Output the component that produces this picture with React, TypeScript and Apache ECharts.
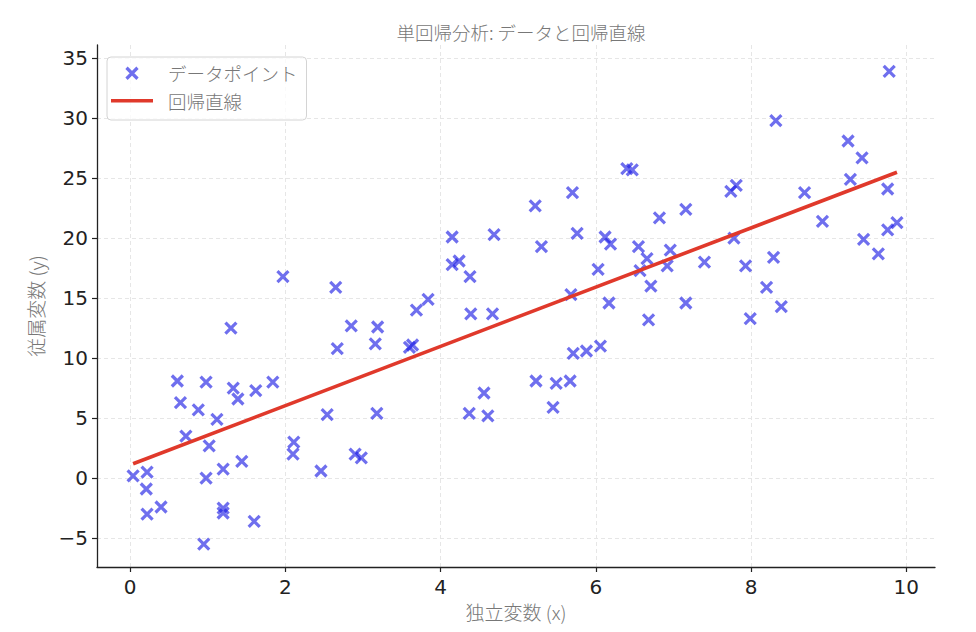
import React, { useEffect, useRef } from "react";
import * as echarts from "echarts";

const xValues: number[] = [
  0.04, 0.22, 0.21, 0.22, 0.40, 0.61, 0.65, 0.72, 0.88, 0.98,
  0.98, 0.95, 1.02, 1.12, 1.20, 1.20, 1.20, 1.30, 1.33, 1.39,
  1.44, 1.60, 1.62, 1.84, 1.97, 2.11, 2.10, 2.46, 2.54, 2.65,
  2.67, 2.85, 2.90, 2.98, 3.16, 3.19, 3.18, 3.60, 3.64, 3.69,
  3.84, 4.15, 4.15, 4.24, 4.38, 4.39, 4.37, 4.56, 4.61, 4.67,
  4.69, 5.22, 5.30, 5.23, 5.45, 5.49, 5.67, 5.70, 5.76, 5.68,
  5.71, 5.88, 6.06, 6.03, 6.12, 6.19, 6.17, 6.40, 6.47, 6.55,
  6.66, 6.57, 6.71, 6.68, 6.82, 6.96, 6.92, 7.16, 7.16, 7.40,
  7.74, 7.81, 7.78, 7.93, 7.99, 8.20, 8.29, 8.32, 8.39, 8.69,
  8.92, 9.25, 9.28, 9.43, 9.45, 9.64, 9.76, 9.76, 9.78, 9.88,
];
const yValues: number[] = [
  0.2, 0.5, -0.9, -3.0, -2.4, 8.1, 6.3, 3.5, 5.7, 8.0,
  0.0, -5.5, 2.7, 4.9, 0.75, -2.5, -2.9, 12.5, 7.5, 6.6,
  1.4, -3.6, 7.3, 8.0, 16.8, 3.0, 2.0, 0.6, 5.3, 15.9,
  10.8, 12.7, 2.0, 1.7, 11.2, 12.6, 5.4, 10.9, 11.1, 14.0,
  14.9, 20.1, 17.8, 18.1, 16.8, 13.7, 5.4, 7.1, 5.2, 13.7,
  20.3, 22.7, 19.3, 8.1, 5.9, 7.9, 8.1, 23.8, 20.4, 15.3,
  10.4, 10.6, 11.0, 17.4, 20.1, 19.5, 14.6, 25.8, 25.7, 19.3,
  18.3, 17.3, 16.0, 13.2, 21.7, 19.0, 17.7, 22.4, 14.6, 18.0,
  23.9, 24.4, 20.0, 17.7, 13.3, 15.9, 18.4, 29.8, 14.3, 23.8,
  21.4, 28.1, 24.9, 26.7, 19.9, 18.7, 24.1, 20.7, 33.9, 21.3,
];
const lineX: number[] = [0.04, 9.88];
const lineY: number[] = [1.2, 25.5];
const xTicks: number[] = [0, 2, 4, 6, 8, 10];
const yTicks: number[] = [-5, 0, 5, 10, 15, 20, 25, 30, 35];

const title = "単回帰分析: データと回帰直線";
const xName = "独立変数 (x)";
const yName = "従属変数 (y)";
const scatterName = "データポイント";
const lineName = "回帰直線";

const CJK = "'Noto Sans CJK JP', 'DejaVu Sans', sans-serif";
const NUM = "'DejaVu Sans', sans-serif";
const X_SYMBOL = "path://M0,0L10,10M10,0L0,10";
const BLUE = "rgba(30,30,228,0.8)";
const RED = "#e0392b";

export default function App() {
  const ref = useRef<HTMLDivElement>(null);
  useEffect(() => {
    if (!ref.current) return;
    const chart = echarts.init(ref.current, undefined, { renderer: "svg" });
    const fmt = (v: number) => String(v).replace("-", "\u2212");
    chart.setOption({
      animation: false,
      backgroundColor: "#ffffff",
      title: {
        text: title,
        left: 516,
        textAlign: "center",
        top: 18,
        textStyle: { fontFamily: CJK, fontSize: 18.5, fontWeight: 300, color: "#777777" },
      },
      legend: {
        orient: "vertical",
        left: 107,
        top: 57,
        padding: [7, 9, 10, 4],
        itemGap: 9,
        itemWidth: 42,
        itemHeight: 11,
        borderColor: "#d4d4d4",
        borderWidth: 1,
        borderRadius: 4,
        backgroundColor: "rgba(255,255,255,0.8)",
        textStyle: { fontFamily: CJK, fontSize: 18.5, fontWeight: 300, color: "#777777", padding: [0, 0, 0, 10] },
        data: [
          { name: scatterName, itemStyle: { color: "rgba(0,0,0,0)", borderColor: BLUE, borderWidth: 3.2 } },
          { name: lineName, icon: "path://M0,0H42V3.4H0Z" },
        ],
      },
      grid: { left: 97, right: 41, top: 45, bottom: 65 },
      xAxis: {
        type: "value",
        min: -0.425,
        max: 10.37,
        name: xName,
        nameLocation: "middle",
        nameGap: 34,
        nameTextStyle: { fontFamily: CJK, fontSize: 19, fontWeight: 300, color: "#777777" },
        axisLine: { show: true, onZero: false, lineStyle: { color: "#222222", width: 1.3 } },
        axisTick: { show: true, customValues: xTicks, length: 5, lineStyle: { color: "#222222", width: 1.2 } },
        axisLabel: { customValues: xTicks, fontFamily: NUM, fontSize: 20, color: "#222222", margin: 10, formatter: fmt },
        splitLine: { show: true, lineStyle: { color: "#e6e6e6", type: [4, 3], width: 1 } },
      },
      yAxis: {
        type: "value",
        min: -7.4,
        max: 36.1,
        name: yName,
        nameLocation: "middle",
        nameGap: 52,
        nameRotate: 90,
        nameTextStyle: { fontFamily: CJK, fontSize: 19, fontWeight: 300, color: "#777777" },
        axisLine: { show: true, onZero: false, lineStyle: { color: "#222222", width: 1.3 } },
        axisTick: { show: true, customValues: yTicks, length: 5, lineStyle: { color: "#222222", width: 1.2 } },
        axisLabel: { customValues: yTicks, fontFamily: NUM, fontSize: 20, color: "#222222", margin: 9, formatter: fmt },
        splitLine: { show: true, lineStyle: { color: "#e6e6e6", type: [4, 3], width: 1 } },
      },
      series: [
        {
          name: scatterName,
          type: "scatter",
          symbol: X_SYMBOL,
          symbolSize: 11,
          itemStyle: { color: "rgba(0,0,0,0)", borderColor: BLUE, borderWidth: 3.2 },
          data: xValues.map((x, i) => [x, yValues[i]]),
          z: 2,
        },
        {
          name: lineName,
          type: "line",
          showSymbol: false,
          symbol: "none",
          itemStyle: { color: RED },
          lineStyle: { color: RED, width: 3.6 },
          data: lineX.map((x, i) => [x, lineY[i]]),
          z: 3,
        },
      ],
    });
    return () => chart.dispose();
  }, []);
  return (
    <div
      ref={ref}
      style={{ position: "fixed", left: 0, top: 0, width: 976, height: 632 }}
    />
  );
}
